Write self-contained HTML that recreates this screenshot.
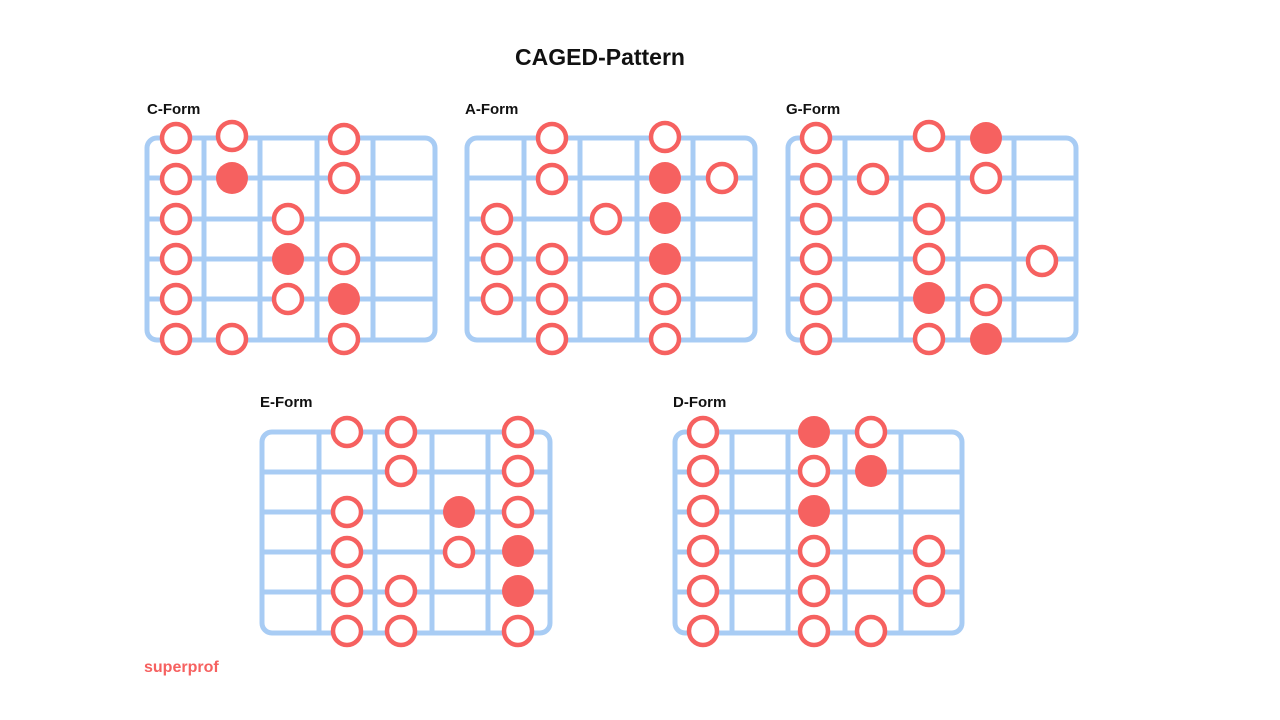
<!DOCTYPE html>
<html><head><meta charset="utf-8"><style>
html,body{margin:0;padding:0;background:#fff;}
svg{display:block}
text{font-family:"Liberation Sans",sans-serif;font-weight:bold}
.g{fill:none;stroke:#a8ccf4;stroke-width:5}
.o{fill:#fff;stroke:#f66160;stroke-width:4.5}
.f{fill:#f66160}
</style></head><body>
<svg width="1280" height="720" viewBox="0 0 1280 720">
<rect width="1280" height="720" fill="#fff"/>
<text x="600" y="65" font-size="23" text-anchor="middle" fill="#111">CAGED-Pattern</text>
<text x="147" y="114" font-size="15" fill="#111">C-Form</text>
<text x="465" y="114" font-size="15" fill="#111">A-Form</text>
<text x="786" y="114" font-size="15" fill="#111">G-Form</text>
<text x="260" y="407" font-size="15" fill="#111">E-Form</text>
<text x="673" y="407" font-size="15" fill="#111">D-Form</text>
<text x="144" y="672" font-size="16" fill="#f66160">superprof</text>

<!-- grids -->
<g class="g">
<rect x="147" y="138" width="288" height="202" rx="10"/>
<path d="M204 138V340M260 138V340M317 138V340M373 138V340M147 178H435M147 219H435M147 259H435M147 299H435"/>
<rect x="467" y="138" width="288" height="202" rx="10"/>
<path d="M524 138V340M580 138V340M637 138V340M693 138V340M467 178H755M467 219H755M467 259H755M467 299H755"/>
<rect x="788" y="138" width="288" height="202" rx="10"/>
<path d="M845 138V340M901 138V340M958 138V340M1014 138V340M788 178H1076M788 219H1076M788 259H1076M788 299H1076"/>
<rect x="262" y="432" width="288" height="201" rx="10"/>
<path d="M319 432V633M375 432V633M432 432V633M488 432V633M262 472H550M262 512H550M262 552H550M262 592H550"/>
<rect x="675" y="432" width="287" height="201" rx="10"/>
<path d="M732 432V633M788 432V633M845 432V633M901 432V633M675 472H962M675 512H962M675 552H962M675 592H962"/>
</g>

<!-- C-Form -->
<g class="o">
<circle cx="176" cy="138" r="14"/><circle cx="232" cy="136" r="14"/><circle cx="344" cy="139" r="14"/>
<circle cx="176" cy="179" r="14"/><circle cx="344" cy="178" r="14"/>
<circle cx="176" cy="219" r="14"/><circle cx="288" cy="219" r="14"/>
<circle cx="176" cy="259" r="14"/><circle cx="344" cy="259" r="14"/>
<circle cx="176" cy="299" r="14"/><circle cx="288" cy="299" r="14"/>
<circle cx="176" cy="339" r="14"/><circle cx="232" cy="339" r="14"/><circle cx="344" cy="339" r="14"/>
</g>
<g class="f">
<circle cx="232" cy="178" r="16"/><circle cx="288" cy="259" r="16"/><circle cx="344" cy="299" r="16"/>
</g>

<!-- A-Form -->
<g class="o">
<circle cx="552" cy="138" r="14"/><circle cx="665" cy="137" r="14"/>
<circle cx="552" cy="179" r="14"/><circle cx="722" cy="178" r="14"/>
<circle cx="497" cy="219" r="14"/><circle cx="606" cy="219" r="14"/>
<circle cx="497" cy="259" r="14"/><circle cx="552" cy="259" r="14"/>
<circle cx="497" cy="299" r="14"/><circle cx="552" cy="299" r="14"/><circle cx="665" cy="299" r="14"/>
<circle cx="552" cy="339" r="14"/><circle cx="665" cy="339" r="14"/>
</g>
<g class="f">
<circle cx="665" cy="178" r="16"/><circle cx="665" cy="218" r="16"/><circle cx="665" cy="259" r="16"/>
</g>

<!-- G-Form -->
<g class="o">
<circle cx="816" cy="138" r="14"/><circle cx="929" cy="136" r="14"/>
<circle cx="816" cy="179" r="14"/><circle cx="873" cy="179" r="14"/><circle cx="986" cy="178" r="14"/>
<circle cx="816" cy="219" r="14"/><circle cx="929" cy="219" r="14"/>
<circle cx="816" cy="259" r="14"/><circle cx="929" cy="259" r="14"/><circle cx="1042" cy="261" r="14"/>
<circle cx="816" cy="299" r="14"/><circle cx="986" cy="300" r="14"/>
<circle cx="816" cy="339" r="14"/><circle cx="929" cy="339" r="14"/>
</g>
<g class="f">
<circle cx="986" cy="138" r="16"/><circle cx="929" cy="298" r="16"/><circle cx="986" cy="339" r="16"/>
</g>

<!-- E-Form -->
<g class="o">
<circle cx="347" cy="432" r="14"/><circle cx="401" cy="432" r="14"/><circle cx="518" cy="432" r="14"/>
<circle cx="401" cy="471" r="14"/><circle cx="518" cy="471" r="14"/>
<circle cx="347" cy="512" r="14"/><circle cx="518" cy="512" r="14"/>
<circle cx="347" cy="552" r="14"/><circle cx="459" cy="552" r="14"/>
<circle cx="347" cy="591" r="14"/><circle cx="401" cy="591" r="14"/>
<circle cx="347" cy="631" r="14"/><circle cx="401" cy="631" r="14"/><circle cx="518" cy="631" r="14"/>
</g>
<g class="f">
<circle cx="459" cy="512" r="16"/><circle cx="518" cy="551" r="16"/><circle cx="518" cy="591" r="16"/>
</g>

<!-- D-Form -->
<g class="o">
<circle cx="703" cy="432" r="14"/><circle cx="871" cy="432" r="14"/>
<circle cx="703" cy="471" r="14"/><circle cx="814" cy="471" r="14"/>
<circle cx="703" cy="511" r="14"/>
<circle cx="703" cy="551" r="14"/><circle cx="814" cy="551" r="14"/><circle cx="929" cy="551" r="14"/>
<circle cx="703" cy="591" r="14"/><circle cx="814" cy="591" r="14"/><circle cx="929" cy="591" r="14"/>
<circle cx="703" cy="631" r="14"/><circle cx="814" cy="631" r="14"/><circle cx="871" cy="631" r="14"/>
</g>
<g class="f">
<circle cx="814" cy="432" r="16"/><circle cx="871" cy="471" r="16"/><circle cx="814" cy="511" r="16"/>
</g>
</svg>
</body></html>
